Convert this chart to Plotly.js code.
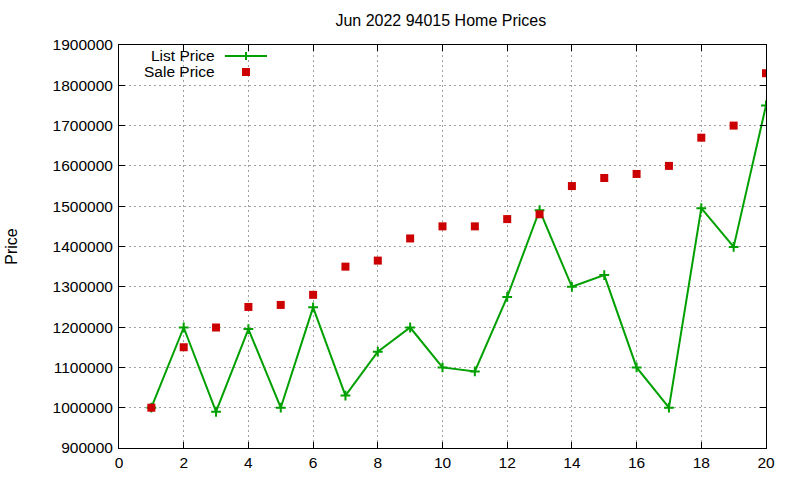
<!DOCTYPE html>
<html>
<head>
<meta charset="utf-8">
<script src="https://cdn.plot.ly/plotly-3.0.1.min.js"></script>
<style>
  html, body { margin: 0; padding: 0; background: #fff; }
  #chart { width: 800px; height: 480px; }
</style>
</head>
<body>
<div id="chart"></div>
<script>
// Listing index (1..20) for homes in 94015, June 2022
const listingIndex = [1, 2, 3, 4, 5, 6, 7, 8, 9, 10, 11, 12, 13, 14, 15, 16, 17, 18, 19, 20];

// Asking price per listing
const listPrice = [1000000, 1199000, 990000, 1195000, 1000000, 1249000, 1030000, 1139000, 1199000, 1100000,
                   1090000, 1275000, 1490000, 1300000, 1329000, 1100000, 1000000, 1495000, 1399000, 1750000];

// Final sale price per listing
const salePrice = [1000000, 1150000, 1199000, 1250000, 1255000, 1280000, 1350000, 1365000, 1420000, 1450000,
                   1450000, 1468000, 1480000, 1550000, 1570000, 1580000, 1600000, 1670000, 1700000, 1830000];

const seriesNames = ['List Price', 'Sale Price'];

const GREEN = '#00a000';
const RED = '#cc0000';
const FONT = 'Liberation Sans, Arial, sans-serif';

const traces = [
  {
    x: listingIndex, y: listPrice, name: seriesNames[0],
    type: 'scatter', mode: 'lines+markers',
    line: { color: GREEN, width: 2 },
    marker: { symbol: 'cross-thin', size: 7, color: GREEN, line: { color: GREEN, width: 2 } },
    showlegend: false
  },
  {
    x: listingIndex, y: salePrice, name: seriesNames[1],
    type: 'scatter', mode: 'markers',
    marker: { symbol: 'square', size: 8, color: RED },
    showlegend: false
  }
];

// Plot-area geometry in pixels, used to place the hand-built key
const W = 800, H = 480, L = 119, R = 34, T = 45, B = 32;
const pw = W - L - R, ph = H - T - B;
const px = v => (v - L) / pw;
const py = v => (H - B - v) / ph;

const keyShapes = [
  // List Price sample: line with a plus marker
  { type: 'line', xref: 'paper', yref: 'paper', x0: px(225), x1: px(267), y0: py(56), y1: py(56),
    line: { color: GREEN, width: 2 } },
  { type: 'line', xref: 'paper', yref: 'paper', x0: px(246), x1: px(246), y0: py(52), y1: py(60),
    line: { color: GREEN, width: 2 } },
  // Sale Price sample: filled square
  { type: 'rect', xref: 'paper', yref: 'paper', x0: px(242), x1: px(250), y0: py(68), y1: py(76),
    fillcolor: RED, line: { width: 0 } }
];

const keyLabels = [
  { text: seriesNames[0], xref: 'paper', yref: 'paper', x: px(217), y: py(55),
    xanchor: 'right', yanchor: 'middle', showarrow: false, font: { family: FONT, size: 15.5, color: '#000' } },
  { text: seriesNames[1], xref: 'paper', yref: 'paper', x: px(217), y: py(71),
    xanchor: 'right', yanchor: 'middle', showarrow: false, font: { family: FONT, size: 15.5, color: '#000' } }
];

const axisCommon = {
  showline: true, linecolor: '#000', linewidth: 1, mirror: 'ticks',
  ticks: 'inside', ticklen: 6, tickcolor: '#000', tickwidth: 1,
  showgrid: true, gridcolor: '#a0a0a0', gridwidth: 1, griddash: '2px,3px',
  zeroline: false,
  tickfont: { family: FONT, size: 15.5, color: '#000' }
};

const layout = {
  width: W, height: H,
  margin: { l: L, r: R, t: T, b: B, pad: 0 },
  paper_bgcolor: '#fff', plot_bgcolor: '#fff',
  font: { family: FONT, size: 15.5, color: '#000' },
  title: { text: 'Jun 2022 94015 Home Prices', x: 0.551, xanchor: 'center', y: 0.958, yanchor: 'middle',
           font: { family: FONT, size: 16, color: '#000' } },
  xaxis: Object.assign({}, axisCommon, {
    range: [0, 20], tickmode: 'linear', tick0: 0, dtick: 2
  }),
  yaxis: Object.assign({}, axisCommon, {
    range: [900000, 1900000], tickmode: 'linear', tick0: 900000, dtick: 100000,
    tickformat: 'd', ticklabelstandoff: 2,
    title: { text: 'Price', standoff: 30, font: { family: FONT, size: 16, color: '#000' } }
  }),
  shapes: keyShapes,
  annotations: keyLabels,
  showlegend: false
};

Plotly.newPlot('chart', traces, layout, { displayModeBar: false, staticPlot: true });
</script>
</body>
</html>
